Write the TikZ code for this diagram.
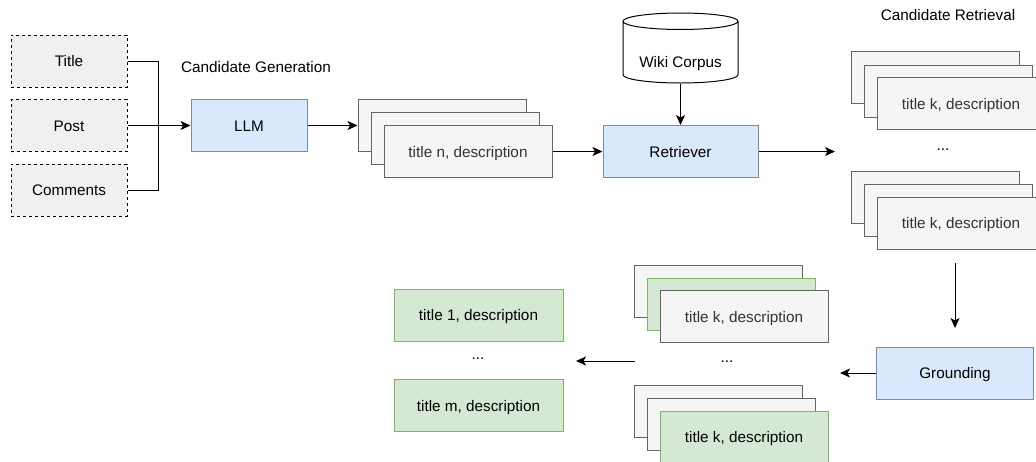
\documentclass[tikz,border=0pt]{standalone}
\usepackage{fontspec}
\setmainfont{Liberation Sans}
\usetikzlibrary{arrows.meta,shapes.geometric}
\definecolor{cardfill}{HTML}{F5F5F5}
\definecolor{cardline}{HTML}{666666}
\definecolor{cardtext}{HTML}{333333}
\definecolor{inputfill}{HTML}{F0F0F0}
\definecolor{bluefill}{HTML}{DAE8FC}
\definecolor{blueline}{HTML}{6C8EBF}
\definecolor{greenfill}{HTML}{D5E8D4}
\definecolor{greenline}{HTML}{82B366}
\tikzset{
  every node/.style={font=\fontsize{15.3pt}{18pt}\selectfont,text height=11pt,text depth=0pt},
  inbox/.style={draw=black,fill=inputfill,dash pattern=on 3pt off 3pt,line width=1pt,minimum width=116pt,minimum height=52pt,inner sep=0pt},
  card/.style={draw=cardline,fill=cardfill,text=cardtext,line width=1pt,minimum width=168pt,minimum height=52pt,inner sep=0pt},
  gcard/.style={draw=greenline,fill=greenfill,line width=1pt,minimum width=168pt,minimum height=52pt,inner sep=0pt},
  bluebox/.style={draw=blueline,fill=bluefill,line width=1pt,minimum height=52pt,inner sep=0pt},
  db/.style={cylinder,shape border rotate=90,aspect=0.2,draw=black,fill=white,line width=1pt,minimum width=115pt,minimum height=70pt,inner sep=0pt,text height=31pt},
  >={Stealth[length=10pt,width=9pt,inset=2.5pt]}
}
\begin{document}
\begin{tikzpicture}[x=1pt,y=-1pt]
\useasboundingbox (0,0) rectangle (1036,461);
\clip (0,0) rectangle (1036,461);

% inputs
\node(title) at (69,61)[inbox]        {Title};
\node(post) at (69,125.5)[inbox]      {Post};
\node(comments) at (69,190)[inbox]    {Comments};
\coordinate(join) at (158,125.5);

\node(genlabel) at (256,67)           {Candidate Generation};
\node(llm) at (249,125.5)[bluebox,minimum width=116pt] {LLM};

% generated candidates
\node(n1) at (442,125)[card]          {};
\node(n2) at (455,138.5)[card]        {};
\node(n3) at (468,151.5)[card]        {title n, description};

\node(corpus) at (680.5,48)[db,anchor=shape center] {Wiki Corpus};
\node(retriever) at (680.5,151.5)[bluebox,minimum width=155pt] {Retriever};
\coordinate(retout) at (835,151.5);

% retrieved candidates
\node(retlabel) at (948,15)           {Candidate Retrieval};
\node(ka1) at (935.5,77.5)[card]      {};
\node(ka2) at (948.5,91)[card]        {};
\node(ka3) at (961,103.5)[card]       {title k, description};
\node(dots1) at (943,145)             {...};
\node(kb1) at (935.5,197.5)[card]     {};
\node(kb2) at (948.5,210.5)[card]     {};
\node(kb3) at (961,223)[card]         {title k, description};
\coordinate(downstart) at (955,263);
\coordinate(downend) at (955,328);

\node(grounding) at (955,373)[bluebox,minimum width=157pt] {Grounding};
\coordinate(groundout) at (840,373);

% grounded candidates
\node(kc1) at (718,291)[card]         {};
\node(kc2) at (731,304)[gcard]        {};
\node(kc3) at (744,316.5)[card]       {title k, description};
\node(dots2) at (727,357)             {...};
\node(kd1) at (718,411)[card]         {};
\node(kd2) at (731,424)[card]         {};
\node(kd3) at (744,437)[gcard]        {title k, description};
\coordinate(finstart) at (635,361);
\coordinate(finend) at (576,361);

% final entities
\node(res1) at (478.5,315)[gcard,minimum width=169pt] {title 1, description};
\node(dots3) at (478,354)             {...};
\node(resm) at (478.5,405.5)[gcard,minimum width=169pt] {title m, description};

\draw[line width=1pt] (title.east) -| (join);
\draw[line width=1pt] (comments.east) -| (join);

\path [->,line width=1pt]
  (post)       edge   (llm)
  (llm)        edge   (n1.west|-llm)
  (n3)         edge   (retriever)
  (corpus.bottom) edge (retriever)
  (retriever)  edge   (retout)
  (downstart)  edge   (downend)
  (grounding)  edge   (groundout)
  (finstart)   edge   (finend);

\end{tikzpicture}
\end{document}
